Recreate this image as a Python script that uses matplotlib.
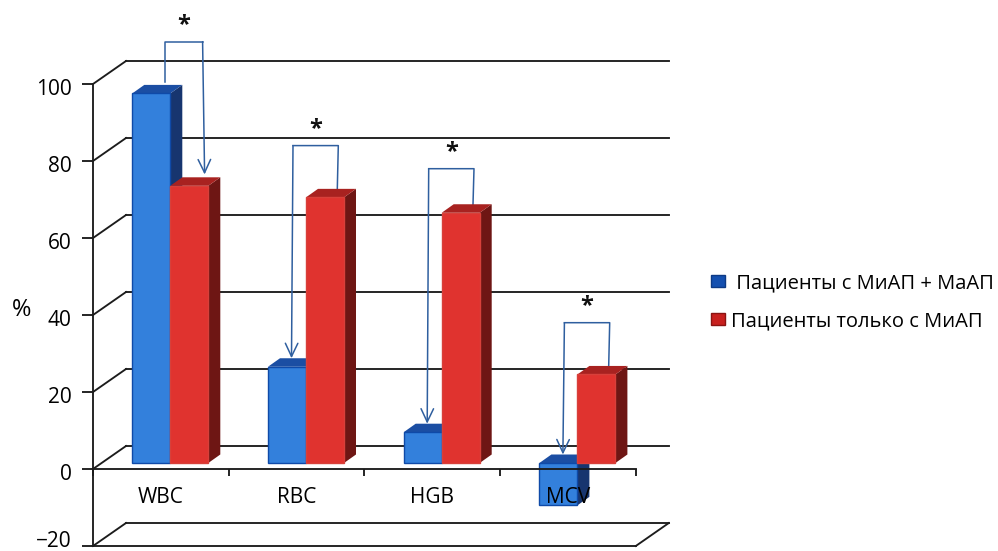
import matplotlib
matplotlib.use("Agg")
import matplotlib.pyplot as plt
from matplotlib.patches import Patch
from matplotlib.transforms import ScaledTranslation

plt.rcParams['font.family'] = ['Open Sans', 'DejaVu Sans']

categories = ['WBC', 'RBC', 'HGB', 'MCV']
series_names = [' Пациенты с МиАП + МаАП', 'Пациенты только с МиАП']
mixed_values = [96, 25, 8, -11]
micro_values = [72, 69, 65, 23]
y_ticks = [-20, 0, 20, 40, 60, 80, 100]
bracket_tops = [111, 84, 78, 38]

W, H = 998, 551
X0, Y0 = 93, 469          # pixel position of the origin
PX_CAT, PX_VAL = 135.7, 3.85
DEPTH_X, DEPTH_Y = 33 / PX_CAT, 23 / PX_VAL
SHIFT_X, SHIFT_Y = 8.6 / PX_CAT, 6 / PX_VAL
BAR_DX, BAR_DY = 12 / PX_CAT, 8.5 / PX_VAL
BAR_W = 38 / PX_CAT
BAR_START = 30.7 / PX_CAT

fig = plt.figure(figsize=(W / 100, H / 100), dpi=100)
ax = fig.add_axes([0, 0, 1, 1])
ax.set_xlim(-X0 / PX_CAT, (W - X0) / PX_CAT)
ax.set_ylim((Y0 - H) / PX_VAL, Y0 / PX_VAL)
ax.patch.set_visible(False)

LINE = '#1c1c1c'
LW = 1.35

# walls
for v in y_ticks:
    ax.plot([0, DEPTH_X], [v, v + DEPTH_Y], color=LINE, lw=LW, zorder=1)
    ax.plot([DEPTH_X, 4 + DEPTH_X], [v + DEPTH_Y, v + DEPTH_Y], color=LINE, lw=LW, zorder=1)
ax.plot([0, 4], [-20, -20], color=LINE, lw=LW, zorder=1)
ax.plot([4, 4 + DEPTH_X], [-20, -20 + DEPTH_Y], color=LINE, lw=LW, zorder=1)

# axes
for side in ('top', 'right'):
    ax.spines[side].set_visible(False)
ax.spines['left'].set_position(('data', 0))
ax.spines['left'].set_bounds(-20, 100)
ax.spines['bottom'].set_position(('data', 0))
ax.spines['bottom'].set_bounds(0, 4)
for s in ('left', 'bottom'):
    ax.spines[s].set_linewidth(LW)
    ax.spines[s].set_color(LINE)
ax.set_yticks(y_ticks)
ax.tick_params(axis='y', direction='out', length=8, width=LW, pad=7.5, labelsize=15, color=LINE)
for val, t in zip(y_ticks, ax.get_yticklabels()):
    off = 5 / 72 if val == -20 else -2.2 / 72
    t.set_transform(t.get_transform() + ScaledTranslation(0, off, fig.dpi_scale_trans))
ax.set_xticks(range(5))
ax.set_xticklabels([])
ax.tick_params(axis='x', which='major', direction='out', length=5, width=LW, color=LINE)
ax.set_xticks([i + 0.5 for i in range(4)], minor=True)
ax.set_xticklabels(categories, minor=True, fontsize=15)
ax.tick_params(axis='x', which='minor', length=0, pad=13)
ax.xaxis.set_zorder(4)
ax.yaxis.set_label_coords(22 / W, 1 - 310 / H)
ax.set_ylabel('%', rotation=0, fontsize=17, ha='center', va='center')


def draw_bar(x, v, front, top, side, edge, z):
    """x: left edge in category units, v: value; drawn on the shifted bar plane."""
    lo, hi = min(v, 0), max(v, 0)
    xs, ys = x + SHIFT_X, SHIFT_Y
    ax.fill([xs + BAR_W, xs + BAR_W + BAR_DX, xs + BAR_W + BAR_DX, xs + BAR_W],
            [lo + ys, lo + ys + BAR_DY, hi + ys + BAR_DY, hi + ys], color=side, lw=0, zorder=z)
    ax.fill([xs, xs + BAR_DX, xs + BAR_W + BAR_DX, xs + BAR_W],
            [hi + ys, hi + ys + BAR_DY, hi + ys + BAR_DY, hi + ys], color=top, lw=0, zorder=z)
    ax.bar(xs, hi - lo, BAR_W, bottom=lo + ys, align='edge', color=front,
           edgecolor=edge, linewidth=1.0, zorder=z + 0.1)


BLUE = ('#3380DC', '#1B4EA3', '#17356F', '#0F4AA8')
RED = ('#E0332F', '#A82220', '#6E1614', '#D8403A')
for i in range(4):
    draw_bar(i + BAR_START, mixed_values[i], *BLUE, z=2)
for i in range(4):
    draw_bar(i + BAR_START + BAR_W, micro_values[i], *RED, z=2.2)

# significance brackets
ARROW = '#2f5f9f'
HEAD = '->,head_width=0.45,head_length=0.95'
for i in range(4):
    xs = i + BAR_START + SHIFT_X
    left = xs + (33 if i == 0 else 25) / PX_CAT
    right = xs + BAR_W + 0.85 * BAR_W
    tip_x = left - 1.5 / PX_CAT
    top = bracket_tops[i]
    if i == 0:
        # arrow runs from the blue bar to the red bar
        ax.plot([left, left, right], [mixed_values[i] + 4.5, top, top], color=ARROW, lw=1.1, zorder=5)
        ax.annotate('', xy=(right + 2 / PX_CAT, micro_values[i] + 4.5), xytext=(right, top),
                    arrowprops=dict(arrowstyle=HEAD, color=ARROW, lw=1.1, shrinkA=0, shrinkB=0), zorder=5)
    else:
        ax.plot([left, right, right - 1 / PX_CAT], [top, top, micro_values[i] + SHIFT_Y + BAR_DY],
                color=ARROW, lw=1.1, zorder=1.5)
        ax.annotate('', xy=(tip_x, max(mixed_values[i], 0) + SHIFT_Y + BAR_DY), xytext=(left, top),
                    arrowprops=dict(arrowstyle=HEAD, color=ARROW, lw=1.1, shrinkA=0, shrinkB=0), zorder=5)
    ax.text((left + right) / 2, top + 4.3, '*', fontsize=17, fontweight='bold', ha='center', va='center',
            color='#111111', zorder=6)

leg = ax.legend(handles=[Patch(facecolor='#1450B0', edgecolor='#0d3a85'),
                         Patch(facecolor='#C8201E', edgecolor='#8a1412')],
                labels=series_names, frameon=False, fontsize=14.5, loc='center left',
                bbox_to_anchor=(693 / W, 1 - 302 / H), bbox_transform=fig.transFigure,
                handlelength=0.7, handleheight=0.5, handletextpad=0.3, labelspacing=0.9)

fig.savefig('out.png', dpi=100)
